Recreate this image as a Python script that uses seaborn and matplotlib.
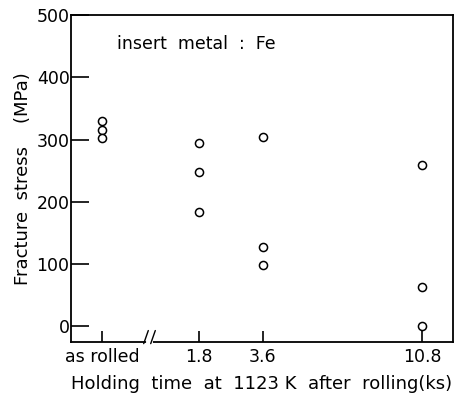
import numpy as np
import pandas as pd
import matplotlib
matplotlib.use("Agg")
import matplotlib.pyplot as plt
import seaborn as sns

# ---- data ----
conditions = ["as rolled", "1.8", "3.6", "10.8"]
holding_ks = [0.0, 1.8, 3.6, 10.8]          # "as rolled" = no holding
stress_as_rolled = [330, 316, 302]
stress_1_8 = [294, 248, 184]
stress_3_6 = [304, 127, 98]
stress_10_8 = [259, 63, 0]
y_ticks = [0, 100, 200, 300, 400, 500]

rows = []
for ks, vals in zip(holding_ks, [stress_as_rolled, stress_1_8, stress_3_6, stress_10_8]):
    for v in vals:
        rows.append({"time": ks, "stress": v})
df = pd.DataFrame(rows)

# ---- layout: non-uniform (broken) x scale ----
anchor_ks = np.array(holding_ks)
anchor_px = np.array([102.0, 199.0, 263.0, 422.0])

def _pw(x, xs, ys):
    x = np.asarray(x, float)
    s0 = (ys[1] - ys[0]) / (xs[1] - xs[0])
    s1 = (ys[-1] - ys[-2]) / (xs[-1] - xs[-2])
    out = np.interp(x, xs, ys)
    out = np.where(x < xs[0], ys[0] + (x - xs[0]) * s0, out)
    out = np.where(x > xs[-1], ys[-1] + (x - xs[-1]) * s1, out)
    return out

fwd = lambda x: _pw(x, anchor_ks, anchor_px)
inv = lambda p: _pw(p, anchor_px, anchor_ks)

sns.set_style("ticks")
plt.rcParams["font.family"] = ["DejaVu Sans"]
for k in ("text.color", "axes.labelcolor", "xtick.color", "ytick.color", "axes.edgecolor"):
    plt.rcParams[k] = "black"

fig = plt.figure(figsize=(4.62, 3.97), dpi=100)
ax = fig.add_axes([71 / 462, 55 / 397, 382 / 462, 327 / 397])
ax.set_xscale("function", functions=(fwd, inv))

sns.scatterplot(data=df, x="time", y="stress", ax=ax, marker="o", s=34,
                facecolor="white", edgecolor="black", linewidth=1.1, legend=False)

ax.set_xlim(float(inv(71.0)), float(inv(453.0)))
ax.set_ylim(-25, 500)
ax.set_xticks(holding_ks)
ax.set_xticklabels(conditions)
ax.set_yticks(y_ticks)
ax.set_yticklabels([str(t) for t in y_ticks])
ax.xaxis.set_minor_locator(matplotlib.ticker.NullLocator())

ax.tick_params(axis="y", direction="in", length=13, width=1.2, labelsize=12.5, pad=1)
ax.tick_params(axis="x", direction="in", length=8, width=1.2, labelsize=12.5, pad=4)
for sp in ax.spines.values():
    sp.set_linewidth(1.3)
    sp.set_color("black")

ax.set_xlabel("Holding  time  at  1123 K  after  rolling(ks)", fontsize=13, labelpad=7)
ax.set_ylabel("Fracture  stress    (MPa)", fontsize=13, labelpad=3)

ax.text(0.12, 0.911, "insert  metal  :  Fe", transform=ax.transAxes,
        fontsize=12.5, ha="left", va="center")

# axis-break marks
x0 = (146 - 71) / 382
x1 = (153 - 71) / 382
ax.plot([x0 + 0.004, x1 - 0.004], [0, 0], transform=ax.transAxes, color="white",
        lw=3, clip_on=False, zorder=5)
for xb in (x0, x1):
    ax.plot([xb - 0.006, xb + 0.006], [-0.005, 0.035], transform=ax.transAxes,
            color="black", lw=1.0, clip_on=False, zorder=6)

fig.savefig("out.png", dpi=100)
